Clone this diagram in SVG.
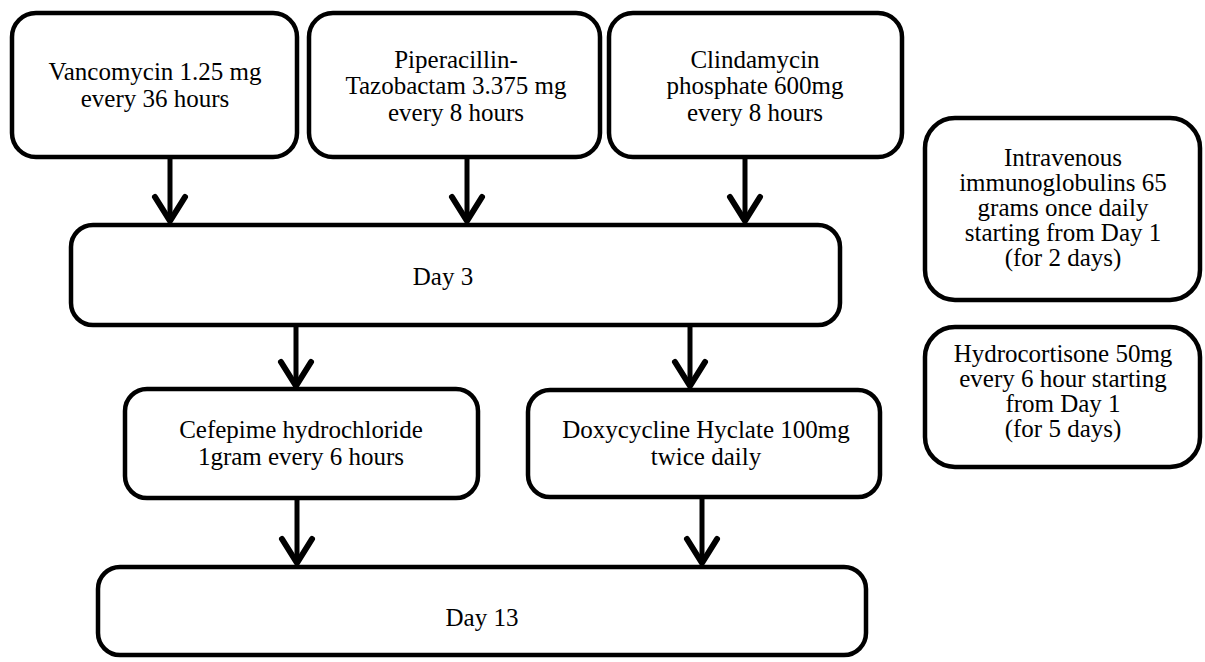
<svg xmlns="http://www.w3.org/2000/svg" width="1205" height="662" viewBox="0 0 1205 662">
<style>
.box{fill:#fff;stroke:#000;stroke-width:4.5}
.t{font-family:'Liberation Serif',Tinos,'Times New Roman',Times,'DejaVu Serif',serif;font-size:25px;fill:#000;text-anchor:middle}
.arr{stroke:#000;stroke-width:5;fill:none}
</style>
<defs>
<marker id="chev" markerUnits="userSpaceOnUse" orient="auto" refX="0" refY="0" markerWidth="40" markerHeight="40" viewBox="-30 -20 34 40" overflow="visible">
<path d="M-24,-15 L0,0 L-24,15" fill="none" stroke="#000" stroke-width="6" stroke-linecap="round" stroke-linejoin="round"/>
</marker>
</defs>
<rect width="1205" height="662" fill="#fff"/>
<g id="connectors">
<line class="arr" x1="170" y1="158" x2="170" y2="221" marker-end="url(#chev)"/>
<line class="arr" x1="467" y1="158" x2="467" y2="221" marker-end="url(#chev)"/>
<line class="arr" x1="745" y1="158" x2="745" y2="221" marker-end="url(#chev)"/>
<line class="arr" x1="296" y1="326" x2="296" y2="386" marker-end="url(#chev)"/>
<line class="arr" x1="690" y1="326" x2="690" y2="386" marker-end="url(#chev)"/>
<line class="arr" x1="297" y1="499" x2="297" y2="563" marker-end="url(#chev)"/>
<line class="arr" x1="702" y1="499" x2="702" y2="563" marker-end="url(#chev)"/>
</g>
<g id="vancomycin">
<rect class="box" x="12" y="13" width="285" height="144" rx="24"/>
<text class="t" x="155" y="80" font-family="Liberation Serif, serif">Vancomycin 1.25 mg</text>
<text class="t" x="155" y="107">every 36 hours</text>
</g>
<g id="piperacillin">
<rect class="box" x="309" y="13" width="291" height="144" rx="24"/>
<text class="t" x="456" y="68">Piperacillin-</text>
<text class="t" x="456" y="94">Tazobactam 3.375 mg</text>
<text class="t" x="456" y="121">every 8 hours</text>
</g>
<g id="clindamycin">
<rect class="box" x="609" y="13" width="293" height="144" rx="24"/>
<text class="t" x="755" y="68">Clindamycin</text>
<text class="t" x="755" y="94">phosphate 600mg</text>
<text class="t" x="755" y="121">every 8 hours</text>
</g>
<g id="day3">
<rect class="box" x="71" y="225" width="769" height="100" rx="22"/>
<text class="t" x="443" y="285">Day 3</text>
</g>
<g id="cefepime">
<rect class="box" x="125" y="389" width="353" height="109" rx="22"/>
<text class="t" x="301" y="438">Cefepime hydrochloride</text>
<text class="t" x="301" y="465">1gram every 6 hours</text>
</g>
<g id="doxycycline">
<rect class="box" x="528" y="390" width="352" height="107" rx="22"/>
<text class="t" x="706" y="438">Doxycycline Hyclate 100mg</text>
<text class="t" x="706" y="465">twice daily</text>
</g>
<g id="day13">
<rect class="box" x="98" y="567" width="768" height="88" rx="22"/>
<text class="t" x="482" y="626">Day 13</text>
</g>
<g id="ivig">
<rect class="box" x="925" y="118" width="275" height="182" rx="30"/>
<text class="t" x="1063" y="166">Intravenous</text>
<text class="t" x="1063" y="191">immunoglobulins 65</text>
<text class="t" x="1063" y="216">grams once daily</text>
<text class="t" x="1063" y="241">starting from Day 1</text>
<text class="t" x="1063" y="266">(for 2 days)</text>
</g>
<g id="hydrocortisone">
<rect class="box" x="925" y="327" width="275" height="140" rx="30"/>
<text class="t" x="1063" y="362">Hydrocortisone 50mg</text>
<text class="t" x="1063" y="387">every 6 hour starting</text>
<text class="t" x="1063" y="412">from Day 1</text>
<text class="t" x="1063" y="437">(for 5 days)</text>
</g>
</svg>
